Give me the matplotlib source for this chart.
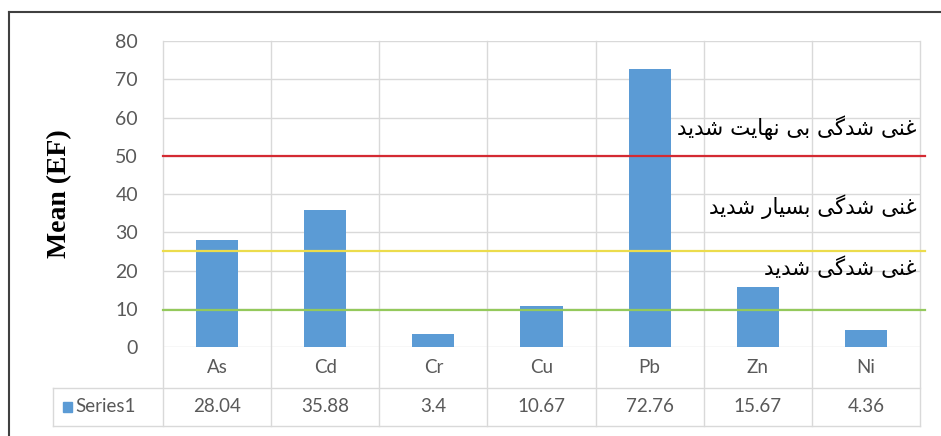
import matplotlib.pyplot as plt
from matplotlib.lines import Line2D
from matplotlib.patches import Rectangle
import matplotlib.transforms as mtransforms

elements = ["As", "Cd", "Cr", "Cu", "Pb", "Zn", "Ni"]
mean_ef = [28.04, 35.88, 3.4, 10.67, 72.76, 15.67, 4.36]
value_text = ["28.04", "35.88", "3.4", "10.67", "72.76", "15.67", "4.36"]
series_name = "Series1"
y_ticks = [0, 10, 20, 30, 40, 50, 60, 70, 80]

# enrichment class limits and the class names written above them
class_limits = [50, 25, 9.8]
class_colors = ["#d42a32", "#ecdc4c", "#94c95c"]
class_names = ["غنی شدگی بی نهایت شدید", "غنی شدگی بسیار شدید", "غنی شدگی شدید"]
name_y = [57.3, 36.6, 20.7]

BAR = "#5b9bd5"
GRID = "#d9d9d9"
TXT = "#595959"

# minimal arabic-script shaping (matplotlib has no complex text layout)
FORMS = {
    "ا": ("\uFE8D", "\uFE8E", "\uFE8D", "\uFE8E"),
    "ب": ("\uFE8F", "\uFE90", "\uFE91", "\uFE92"),
    "ت": ("\uFE95", "\uFE96", "\uFE97", "\uFE98"),
    "د": ("\uFEA9", "\uFEAA", "\uFEA9", "\uFEAA"),
    "ر": ("\uFEAD", "\uFEAE", "\uFEAD", "\uFEAE"),
    "س": ("\uFEB1", "\uFEB2", "\uFEB3", "\uFEB4"),
    "ش": ("\uFEB5", "\uFEB6", "\uFEB7", "\uFEB8"),
    "غ": ("\uFECD", "\uFECE", "\uFECF", "\uFED0"),
    "ن": ("\uFEE5", "\uFEE6", "\uFEE7", "\uFEE8"),
    "ه": ("\uFEE9", "\uFEEA", "\uFEEB", "\uFEEC"),
    "گ": ("\uFB92", "\uFB93", "\uFB94", "\uFB95"),
    "ی": ("\uFBFC", "\uFBFD", "\uFBFE", "\uFBFF"),
}
NO_LEFT_JOIN = set("ادذرزژو")


def shape(text):
    out = []
    for i, ch in enumerate(text):
        if ch not in FORMS:
            out.append(ch)
            continue
        prev = text[i - 1] if i > 0 else ""
        nxt = text[i + 1] if i + 1 < len(text) else ""
        jp = prev in FORMS and prev not in NO_LEFT_JOIN
        jn = nxt in FORMS and ch not in NO_LEFT_JOIN
        iso, fin, ini, med = FORMS[ch]
        out.append(med if jp and jn else fin if jp else ini if jn else iso)
    return "".join(reversed(out))


fig = plt.figure(figsize=(9.41, 4.36), dpi=100)
ax = fig.add_axes([163 / 941, 1 - 347 / 436, 757 / 941, 306 / 436])

x = list(range(len(elements)))
ax.bar(x, mean_ef, width=0.39, color=BAR, zorder=2)

ax.set_xlim(-0.5, len(elements) - 0.5)
ax.set_ylim(0, 80)
ax.set_yticks(y_ticks)
ax.set_yticklabels([str(t) for t in y_ticks], fontsize=14, color=TXT, family="Lato")
ax.tick_params(axis="y", length=0, pad=18)
ax.set_xticks([])
for s in ax.spines.values():
    s.set_visible(False)
ax.grid(False)
for t in y_ticks:
    ax.axhline(t, color=GRID, lw=1, zorder=0)

# x in data, y in axes fraction (table columns) and the reverse (limit lines)
bt = mtransforms.blended_transform_factory(ax.transData, ax.transAxes)
tb = mtransforms.blended_transform_factory(ax.transAxes, ax.transData)

# vertical grid running down through the data table
row1, row2 = -0.134, -0.258
for i in range(len(elements) + 1):
    ax.plot([i - 0.5, i - 0.5], [row2, 1], color=GRID, lw=1, transform=bt,
            clip_on=False, zorder=0)

# data table rows
left = -0.1453
ax.plot([left, 1], [row1, row1], color=GRID, lw=1, transform=ax.transAxes, clip_on=False)
ax.plot([left, 1], [row2, row2], color=GRID, lw=1, transform=ax.transAxes, clip_on=False)
ax.plot([left, left], [row1, row2], color=GRID, lw=1, transform=ax.transAxes, clip_on=False)

for i, (el, v) in enumerate(zip(elements, value_text)):
    ax.text(i, -0.068, el, transform=bt, ha="center", va="center",
            fontsize=13.5, color=TXT, family="Lato")
    ax.text(i, -0.196, v, transform=bt, ha="center", va="center",
            fontsize=13.5, color=TXT, family="Lato")

ax.add_patch(Rectangle((-0.132, -0.213), 0.012, 0.032, transform=ax.transAxes,
                       color=BAR, clip_on=False))
ax.text(-0.116, -0.196, series_name, transform=ax.transAxes, ha="left", va="center",
        fontsize=13.5, color=TXT, family="Lato")

# class limit lines and names
for lim, c in zip(class_limits, class_colors):
    ax.plot([0, 1.007], [lim, lim], color=c, lw=1.6, transform=tb,
            clip_on=False, zorder=3)
for name, yy in zip(class_names, name_y):
    ax.text(0.996, yy, shape(name), transform=tb, ha="right", va="center",
            fontsize=15.5, color="black", family="DejaVu Sans", zorder=4)

ax.text(-0.136, 0.5, "Mean (EF)", transform=ax.transAxes, rotation=90,
        ha="center", va="center", fontsize=20, fontweight="bold",
        family="Liberation Serif")

# outer frame
fig.add_artist(Line2D([9 / 941, 1], [1 - 12 / 436] * 2, transform=fig.transFigure,
                      color="#404040", lw=1.5))
fig.add_artist(Line2D([9 / 941, 9 / 941], [0, 1 - 12 / 436], transform=fig.transFigure,
                      color="#404040", lw=1.5))

fig.savefig("out.png", dpi=100)
